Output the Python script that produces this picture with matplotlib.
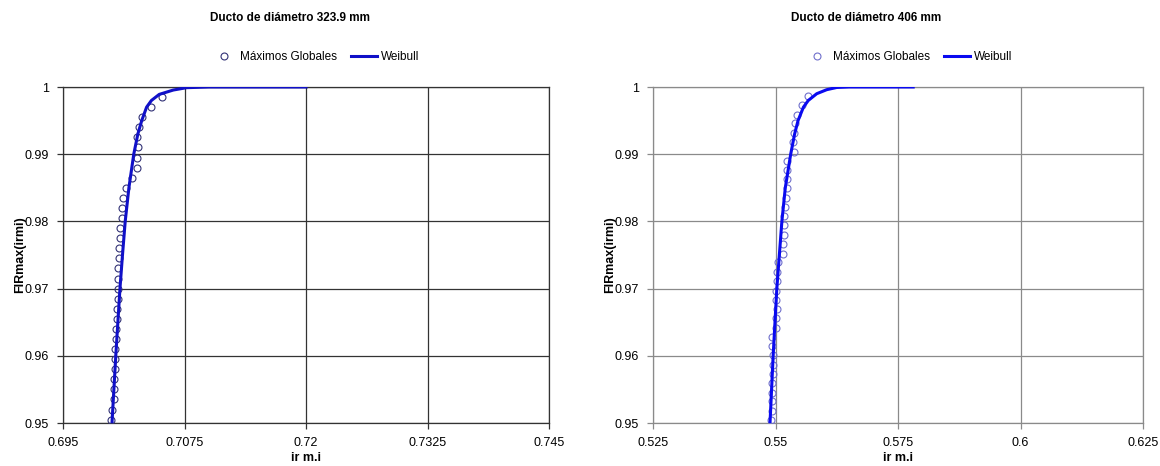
import numpy as np
import matplotlib
matplotlib.use("Agg")
import matplotlib.pyplot as plt
from matplotlib.ticker import FormatStrFormatter

plt.rcParams['font.family'] = ['Liberation Sans', 'DejaVu Sans']

# Ducto 323.9 mm - maximos globales (plotting position vs ir m.i)
f_left = [0.9985, 0.9970, 0.9955, 0.9940, 0.9925, 0.9910, 0.9895, 0.9880, 0.9865, 0.9850,
          0.9835, 0.9820, 0.9805, 0.9790, 0.9775, 0.9760, 0.9745, 0.9730, 0.9715, 0.9700,
          0.9685, 0.9670, 0.9655, 0.9640, 0.9625, 0.9610, 0.9595, 0.9580, 0.9565, 0.9550,
          0.9535, 0.9520, 0.9505]
x_left = [0.70522, 0.70405, 0.70310, 0.70282, 0.70264, 0.70269, 0.70258, 0.70258, 0.70213, 0.70151,
          0.70120, 0.70110, 0.70104, 0.70090, 0.70083, 0.70073, 0.70073, 0.70066, 0.70063, 0.70069,
          0.70066, 0.70059, 0.70056, 0.70045, 0.70042, 0.70035, 0.70032, 0.70032, 0.70028, 0.70028,
          0.70022, 0.70007, 0.69994]
# Weibull fit 323.9 mm
wx_left = [0.70004, 0.70043, 0.70086, 0.70112, 0.70140, 0.70178, 0.70228, 0.70270, 0.70310,
           0.70360, 0.70410, 0.70490, 0.70635, 0.70773, 0.7100, 0.7200]
wf_left = [0.9500, 0.9600, 0.9700, 0.9750, 0.9800, 0.9850, 0.9900, 0.9930, 0.9950,
           0.9970, 0.9980, 0.9989, 0.99955, 0.9999, 1.0, 1.0]

# Ducto 406 mm
f_right = [0.9987, 0.9973, 0.9959, 0.9946, 0.9932, 0.9918, 0.9904, 0.9890, 0.9877, 0.9863,
           0.9849, 0.9835, 0.9821, 0.9808, 0.9794, 0.9780, 0.9766, 0.9752, 0.9739, 0.9725,
           0.9711, 0.9697, 0.9683, 0.9670, 0.9656, 0.9642, 0.9628, 0.9614, 0.9601, 0.9587,
           0.9573, 0.9559, 0.9545, 0.9532, 0.9518, 0.9504]
x_right = [0.55669, 0.55541, 0.55445, 0.55398, 0.55378, 0.55363, 0.55384, 0.55241, 0.55229, 0.55235,
           0.55229, 0.55214, 0.55194, 0.55180, 0.55173, 0.55167, 0.55159, 0.55147, 0.55057, 0.55037,
           0.55024, 0.55010, 0.55016, 0.55024, 0.55016, 0.55016, 0.54929, 0.54929, 0.54955, 0.54949,
           0.54943, 0.54935, 0.54935, 0.54929, 0.54922, 0.54918]
wx_right = [0.54888, 0.54952, 0.55027, 0.55130, 0.55200, 0.55310, 0.55390, 0.55460, 0.55570,
            0.55669, 0.55841, 0.56045, 0.56249, 0.5650, 0.5781]
wf_right = [0.9500, 0.9600, 0.9700, 0.9800, 0.9850, 0.9900, 0.9930, 0.9950, 0.9970,
            0.9980, 0.9990, 0.9996, 0.99993, 1.0, 1.0]

titles = ["Ducto de diámetro 323.9 mm", "Ducto de diámetro 406 mm"]
xticks_left = [0.695, 0.7075, 0.72, 0.7325, 0.745]
xticks_right = [0.525, 0.55, 0.575, 0.6, 0.625]
yticks = [0.95, 0.96, 0.97, 0.98, 0.99, 1.0]

fig = plt.figure(figsize=(11.6, 4.66), dpi=100)
ax1 = fig.add_axes([63 / 1160, 1 - 423 / 466, 486 / 1160, 336 / 466])
ax2 = fig.add_axes([653 / 1160, 1 - 423 / 466, 490 / 1160, 336 / 466])

setups = [
    (ax1, x_left, f_left, wx_left, wf_left, xticks_left, '#333377', '#333333', '#1010c8'),
    (ax2, x_right, f_right, wx_right, wf_right, xticks_right, '#7070cc', '#8a8a8a', '#0a0af0'),
]

for ax, px, pf, wx, wf, xt, mcol, gcol, lcol in setups:
    ax.plot(px, pf, 'o', ms=5, mfc='none', mec=mcol, mew=0.8, zorder=3,
            label='Máximos Globales')
    ax.plot(wx, wf, '-', color=lcol, lw=2.2, zorder=4, label='Weibull')
    ax.set_xlim(xt[0], xt[-1])
    ax.set_ylim(0.95, 1.0)
    ax.set_xticks(xt)
    ax.set_yticks(yticks)
    ax.xaxis.set_major_formatter(FormatStrFormatter('%g'))
    ax.yaxis.set_major_formatter(FormatStrFormatter('%g'))
    ax.grid(True, color=gcol, lw=0.9)
    ax.set_axisbelow(True)
    for s in ax.spines.values():
        s.set_color(gcol)
        s.set_linewidth(0.9)
    ax.tick_params(direction='out', length=4, width=0.9, color=gcol, labelsize=9, pad=6)
    ax.set_xlabel('ir m.i', fontsize=9, fontweight='bold', labelpad=2)
    ax.set_ylabel('FIRmax(irmi)', fontsize=9, fontweight='bold', labelpad=-1)

fig.text(290 / 1160, 1 - 18 / 466, titles[0], ha='center', va='center',
         fontsize=8.5, fontweight='bold')
fig.text(866 / 1160, 1 - 18 / 466, titles[1], ha='center', va='center',
         fontsize=8.5, fontweight='bold')

for ax, cx in [(ax1, 315), (ax2, 908)]:
    h, l = ax.get_legend_handles_labels()
    fig.legend(h, l, loc='center', bbox_to_anchor=(cx / 1160, 1 - 57 / 466), ncol=2,
               frameon=False, fontsize=8.5, handlelength=2.2, handletextpad=0.3,
               columnspacing=1.2, markerscale=1.0)

fig.savefig('out.png', dpi=100)
